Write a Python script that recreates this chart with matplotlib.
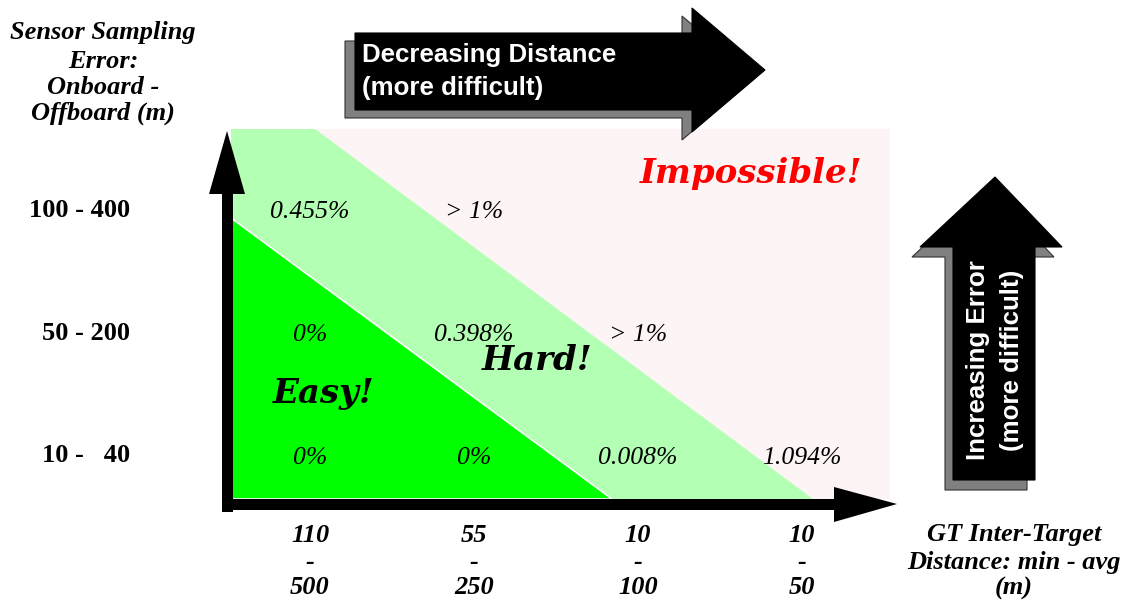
import matplotlib
matplotlib.use("Agg")
import matplotlib.pyplot as plt
from matplotlib.patches import Polygon, Rectangle

# ---------------- data ----------------
distance_labels = [("110", "-", "500"), ("55", "-", "250"), ("10", "-", "100"), ("10", "-", "50")]
error_labels = ["10 -   40", "50 - 200", "100 - 400"]
# cell values, row index 0 = "10 - 40" (bottom)
cell_values = [
    ["0%", "0%", "0.008%", "1.094%"],
    ["0%", "0.398%", "> 1%", ""],
    ["0.455%", "> 1%", "", ""],
]
zone_labels = ["Easy!", "Hard!", "Impossible!"]
y_title = ["Sensor Sampling", "Error:", "Onboard -", "Offboard (m)"]
x_title = ["GT Inter-Target", "Distance: min - avg", "(m)"]
top_arrow_text = ["Decreasing Distance", "(more difficult)"]
right_arrow_text = ["Increasing Error", "(more difficult)"]

# ---------------- layout (pixels) ----------------
W, H = 1126, 600
C0, DC = 310, 164      # column centre pixels
R0, DR = 456, 123      # row centre pixels (bottom row)

PINK = "#fdf5f5"
LGREEN = "#b3ffb3"
GREEN = "#00ff00"
GRAY = "#808080"

fig = plt.figure(figsize=(W / 100, H / 100), dpi=100)
bg = fig.add_axes([0, 0, 1, 1])
bg.set_xlim(0, W)
bg.set_ylim(H, 0)
bg.axis("off")

# zones
bg.add_patch(Rectangle((231, 129), 890 - 231, 499 - 129, facecolor=PINK, edgecolor="none", zorder=1))
bg.add_patch(Polygon([(231, 129), (315, 129), (813, 499), (231, 499)], closed=True,
                     facecolor=LGREEN, edgecolor="none", zorder=2))
bg.add_patch(Polygon([(231, 218), (612, 499), (231, 499)], closed=True,
                     facecolor=GREEN, edgecolor="white", linewidth=1.2, zorder=3))

# axis arrows
bg.add_patch(Rectangle((222, 193), 11, 512 - 193, facecolor="black", edgecolor="none", zorder=5))
bg.add_patch(Polygon([(209, 194), (245, 194), (227, 131)], closed=True, facecolor="black",
                     edgecolor="none", zorder=5))
bg.add_patch(Rectangle((222, 499), 835 - 222, 11, facecolor="black", edgecolor="none", zorder=5))
bg.add_patch(Polygon([(834, 487), (834, 522), (897, 504)], closed=True, facecolor="black",
                     edgecolor="none", zorder=5))

# block arrows with shadow
def block_arrow(pts, off):
    sh = [(x + off[0], y + off[1]) for x, y in pts]
    bg.add_patch(Polygon(sh, closed=True, facecolor=GRAY, edgecolor="#333333", linewidth=0.8, zorder=6))
    bg.add_patch(Polygon(pts, closed=True, facecolor="black", edgecolor="black", linewidth=0.8, zorder=7))

block_arrow([(355, 33), (692, 33), (692, 8), (765, 70), (692, 132), (692, 110), (355, 110)], (-10, 8))
block_arrow([(953, 480), (953, 247), (920, 247), (995, 177), (1062, 247), (1035, 247), (1035, 480)], (-8, 10))

sans = "Liberation Sans"
serif = "Liberation Serif"
for txt, y in zip(top_arrow_text, (55, 88)):
    bg.text(362, y, txt, color="white", fontsize=18.6, fontweight="bold", family=sans,
            ha="left", va="center", zorder=8)
for txt, x in zip(right_arrow_text, (978, 1012)):
    bg.text(x, 360, txt, color="white", fontsize=18.6, fontweight="bold", family=sans,
            ha="center", va="center", rotation=90, zorder=8)

# axis titles
for txt, y in zip(y_title, (33, 61, 88, 113)):
    bg.text(103, y, txt, fontsize=19, fontweight="bold", style="italic", family=serif,
            ha="center", va="center")
for txt, y in zip(x_title, (535, 562, 588)):
    bg.text(1014, y, txt, fontsize=19, fontweight="bold", style="italic", family=serif,
            ha="center", va="center")

# zone labels
zone_pos = [(324, 393), (537, 360), (751, 173)]
zone_col = ["black", "black", "red"]
for txt, (x, y), c in zip(zone_labels, zone_pos, zone_col):
    bg.text(x, y, txt, fontsize=24.5, fontweight="bold", style="italic", family="DejaVu Serif",
            color=c, ha="center", va="center", zorder=9)

# ---------------- data axes (category units) ----------------
ax = fig.add_axes([(C0 - 0.5 * DC) / W, (H - (R0 + 0.5 * DR)) / H, 4 * DC / W, 3 * DR / H])
ax.set_xlim(-0.5, 3.5)
ax.set_ylim(-0.5, 2.5)
ax.patch.set_alpha(0)
ax.axis("off")

for r, row in enumerate(cell_values):
    for c, val in enumerate(row):
        if val:
            ax.text(c, r - 0.015, val, fontsize=18.5, style="italic", family=serif,
                    ha="center", va="center", zorder=10)

row_label_x = (130 - C0) / DC
for r, lab in enumerate(error_labels):
    ax.text(row_label_x, r, lab, fontsize=19, fontweight="bold", family=serif,
            ha="right", va="center", clip_on=False)

line_y = [(R0 - p) / DR for p in (535, 562, 588)]
for c, parts in enumerate(distance_labels):
    for part, y in zip(parts, line_y):
        ax.text(c, y, part, fontsize=19, fontweight="bold", style="italic", family=serif,
                ha="center", va="center", clip_on=False)

fig.savefig("out.png", dpi=100)
